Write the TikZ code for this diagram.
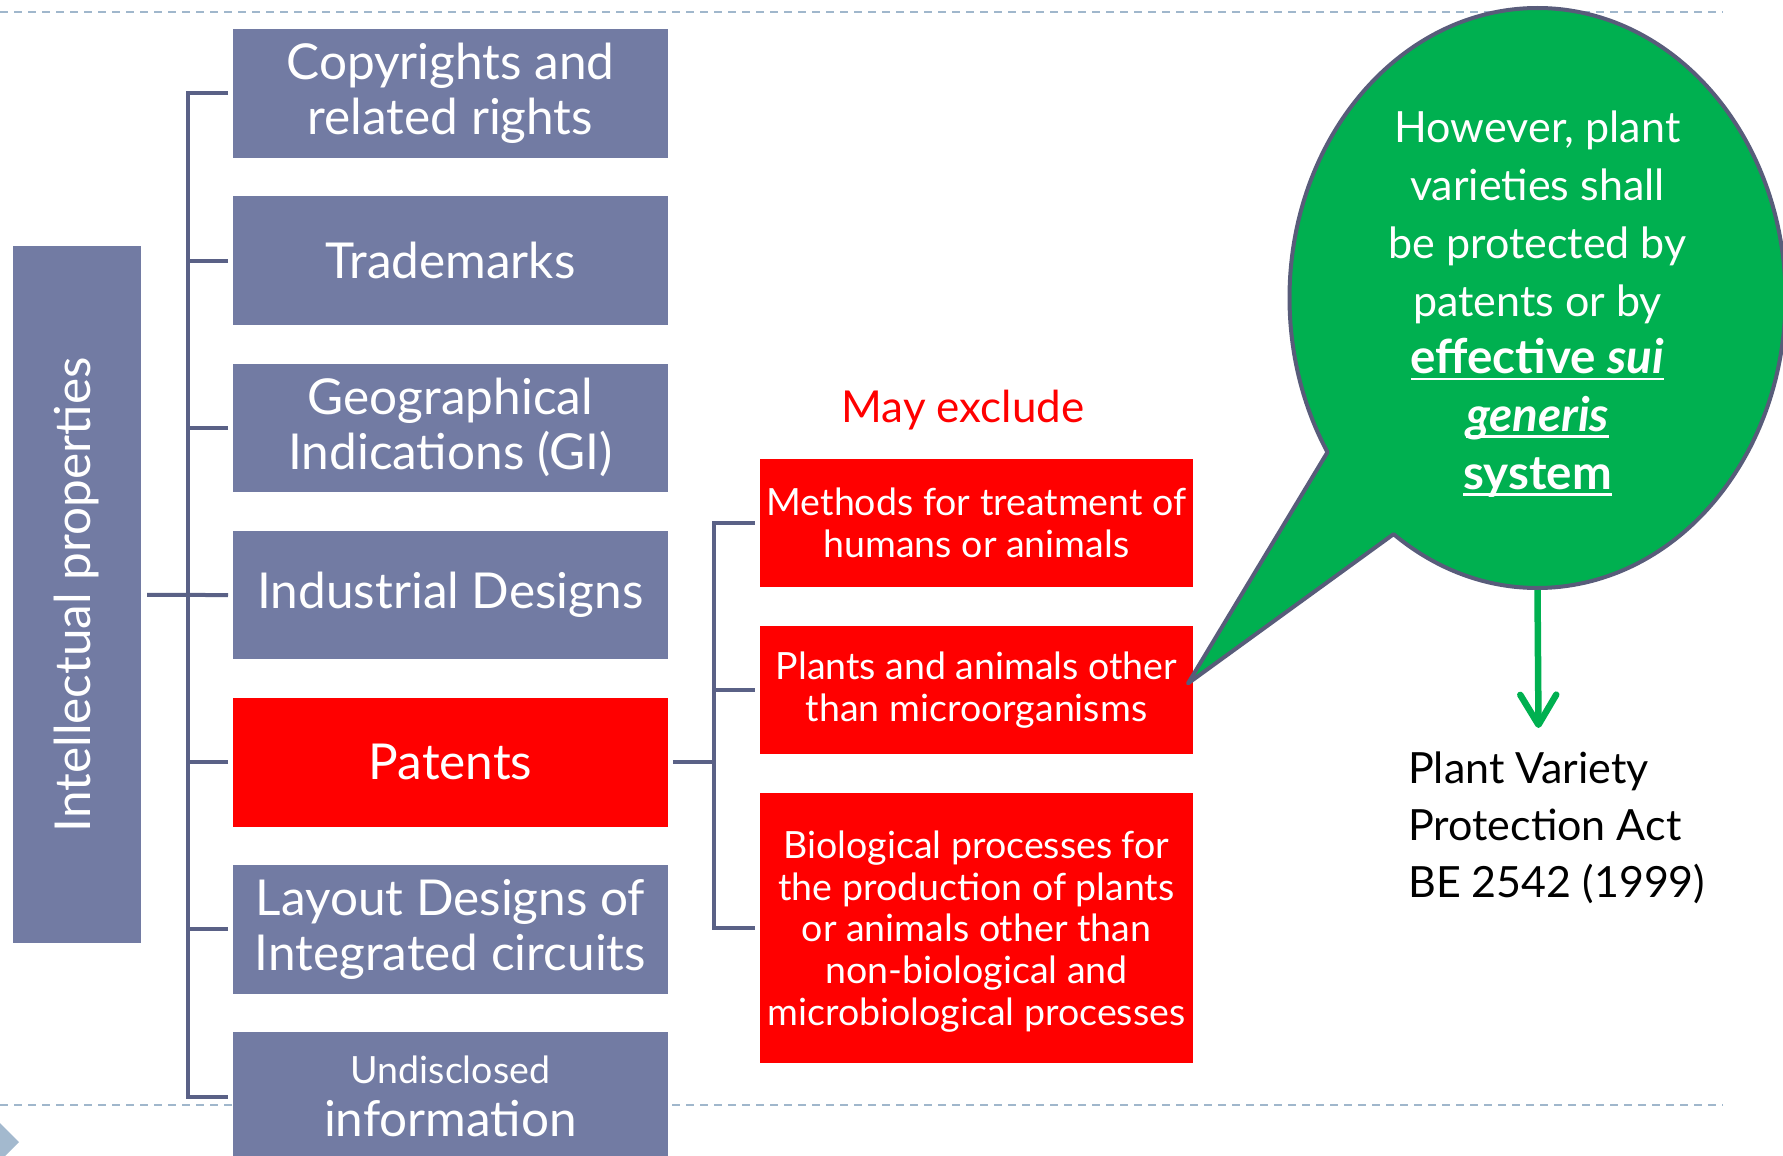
\documentclass[tikz,border=0pt]{standalone}
\usepackage{fontspec}
\setmainfont{Lato}
\usetikzlibrary{shapes.callouts,arrows.meta}
\definecolor{boxblue}{RGB}{114,123,163}
\definecolor{connc}{RGB}{90,97,134}
\definecolor{bubbleborder}{RGB}{88,92,122}
\definecolor{bubgreen}{RGB}{0,176,80}
\definecolor{dashc}{RGB}{160,183,204}
\definecolor{tric}{RGB}{163,185,206}
\definecolor{pured}{RGB}{255,0,0}
\newcommand\myul[1]{\setbox0=\hbox{#1}\rlap{\rule[-6.5pt]{\wd0}{2.8pt}}\box0}
\begin{document}
\begin{tikzpicture}[x=1pt,y=-1pt,
  gbox/.style={fill=boxblue, draw=none, minimum width=434.5pt, minimum height=128.5pt,
    anchor=north west, inner sep=0pt, text=white, align=center,
    font=\fontsize{49.5}{55}\selectfont},
  rbox/.style={fill=pured, draw=none, minimum width=433.4pt, minimum height=128.5pt,
    anchor=north west, inner sep=0pt, text=white, align=center,
    font=\fontsize{37.5}{41.7}\selectfont},
  conn/.style={draw=connc, line width=4pt},
  dashline/.style={draw=dashc, line width=2.2pt, dash pattern=on 8pt off 6pt},
  garrow/.style={draw=bubgreen, line width=6.5pt, -{Straight Barb[length=30pt,width=36pt,round]}}
]
\useasboundingbox (0,0) rectangle (1783,1156);
\clip (0,0) rectangle (1783,1156);

% slide decorations
\draw[dashline] (0,12) -- (1723,12);
\draw[dashline] (0,1105) -- (1723,1105);
\fill[tric] (-3,1120) -- (19,1142) -- (-3,1164) -- cycle;

% left box
\node[rotate=90, fill=boxblue, minimum width=697pt, minimum height=128.5pt, inner sep=0pt,
      text=white, font=\fontsize{49.5}{55}\selectfont] (ip) at (76.75,594.85) {Intellectual properties};

% categories
\node[gbox] (copy) at (233,29) {Copyrights and\\related rights};
\node[gbox] (tm) at (233,196.2) {Trademarks};
\node[gbox] (gi) at (233,363.4) {Geographical\\Indications (GI)};
\node[gbox] (ind) at (233,530.6) {Industrial Designs};
\node[gbox, fill=pured] (pat) at (233,697.8) {Patents};
\node[gbox] (lay) at (233,865) {Layout Designs of\\Integrated circuits};
\node[gbox, font=\fontsize{49.5}{53}\selectfont] (und) at (233,1032.2) {{\fontsize{37.5}{45}\selectfont Undisclosed}\\information};

% tree connectors (left)
\draw[conn] ([xshift=6pt]ip.south) -- ([xshift=-5pt]ind.west);
\draw[conn] ([xshift=-5pt]copy.west) -- ++(-40.5,0) |- ([xshift=-5pt]und.west);
\draw[conn] ([xshift=-5pt]tm.west) -- ++(-40.5,0);
\draw[conn] ([xshift=-5pt]gi.west) -- ++(-40.5,0);
\draw[conn] ([xshift=-5pt]pat.west) -- ++(-40.5,0);
\draw[conn] ([xshift=-5pt]lay.west) -- ++(-40.5,0);

% exclusions
\node[text=pured, font=\fontsize{44}{50}\selectfont] (may) at (963,410) {May exclude};
\node[rbox] (ex1) at (759.6,458.3) {Methods for treatment of\\humans or animals};
\node[rbox] (ex2) at (759.6,625.4) {Plants and animals other\\than microorganisms};
\node[rbox, minimum height=270.6pt, text depth=-2pt] (ex3) at (759.6,792.6) {Biological processes for\\the production of plants\\or animals other than\\non-biological and\\microbiological processes};

\draw[conn] ([xshift=5pt]pat.east) -- ++(41,0);
\draw[conn] ([xshift=-5pt]ex1.west) -- ++(-41,0) |- ([xshift=-5pt]ex3.west);
\draw[conn] ([xshift=-5pt]ex2.west) -- ++(-41,0);

% callout
\node[ellipse callout, callout absolute pointer={(1188,683.4)}, callout pointer arc=22.4,
      fill=bubgreen, draw=bubbleborder, line width=4pt, line join=round,
      minimum width=496pt, minimum height=580pt, inner sep=0pt,
      text=white, align=center, font=\fontsize{43}{57.8}\selectfont] (bub) at (1537.5,298)
  {\rule{0pt}{44pt}However, plant\\varieties shall\\be protected by\\patents or by\\{\fontsize{47.5}{57.8}\selectfont\myul{\bfseries effective \itshape sui}}\\{\fontsize{47.5}{57.8}\selectfont\myul{\bfseries\itshape generis}}\\{\fontsize{47.5}{57.8}\selectfont\myul{\bfseries system}}};

\node[anchor=west, align=left, inner sep=0pt, font=\fontsize{43}{57}\selectfont] (pva) at (1408,828)
  {Plant Variety\\Protection Act\\BE 2542 (1999)};
\coordinate (atip) at (1538.5,728);
\draw[garrow] (bub.south) -- (atip);
\end{tikzpicture}
\end{document}
